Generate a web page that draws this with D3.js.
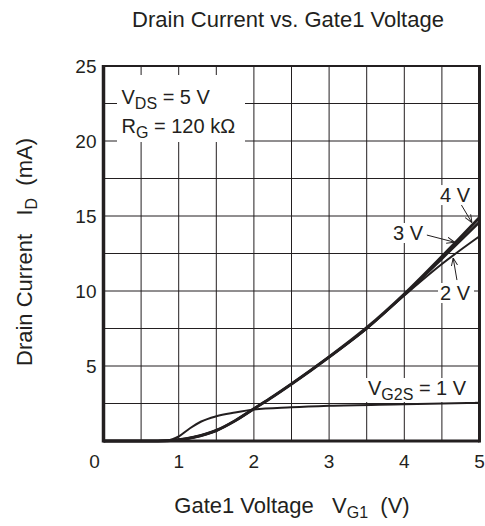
<!DOCTYPE html>
<html>
<head>
<meta charset="utf-8">
<script src="https://cdn.jsdelivr.net/npm/d3@7"></script>
<style>
body { margin: 0; background: #fff; }
text { font-family: "Liberation Sans", Arial, sans-serif; fill: #231f20; }
</style>
</head>
<body>
<div id="chart"></div>
<script>
var svgWidth = 485;
var svgHeight = 526;

var margin = { left: 103.5, right: 5, top: 66, bottom: 85 };
var width = 479.5 - margin.left;
var height = 441 - margin.top;

// data (x: VG1 in V, y: ID in mA)
var xTicks = [0, 1, 2, 3, 4, 5];
var yTicks = [5, 10, 15, 20, 25];
var curve4V = [[0,0],[0.6,0],[0.85,0.02],[1.0,0.08],[1.2,0.25],[1.5,0.7],[1.75,1.35],[2,2.15],[2.25,2.95],[2.5,3.8],[3,5.6],[3.5,7.55],[4,9.8],[4.5,12.3],[5,14.9]];
var curve3V = [[0,0],[0.6,0],[0.85,0.02],[1.0,0.08],[1.2,0.25],[1.5,0.7],[1.75,1.35],[2,2.15],[2.25,2.95],[2.5,3.8],[3,5.6],[3.5,7.5],[4,9.75],[4.5,12.15],[5,14.6]];
var curve2V = [[0,0],[0.6,0],[0.85,0.02],[1.0,0.08],[1.2,0.25],[1.5,0.7],[1.75,1.35],[2,2.15],[2.25,2.95],[2.5,3.8],[3,5.6],[3.5,7.5],[4,9.7],[4.5,11.8],[5,13.65]];
var curve1V = [[0,0],[0.6,0],[0.85,0.04],[1.0,0.3],[1.15,0.85],[1.3,1.3],[1.5,1.65],[1.75,1.9],[2,2.1],[2.5,2.25],[3,2.35],[4,2.45],[5,2.55]];

var svg = d3.select("#chart").append("svg")
  .attr("width", svgWidth)
  .attr("height", svgHeight);

var chartGroup = svg.append("g")
  .attr("transform", `translate(${margin.left}, ${margin.top})`);

var xScale = d3.scaleLinear().domain([0, 5]).range([0, width]);
var yScale = d3.scaleLinear().domain([0, 25]).range([height, 0]);

// grid every 0.5 V and 2.5 mA
chartGroup.append("g")
  .selectAll("line").data(d3.range(0.5, 5, 0.5)).enter()
  .append("line")
  .attr("x1", d => xScale(d)).attr("x2", d => xScale(d))
  .attr("y1", 0).attr("y2", height)
  .attr("stroke", "#231f20").attr("stroke-width", 1);

chartGroup.append("g")
  .selectAll("line").data(d3.range(2.5, 25, 2.5)).enter()
  .append("line")
  .attr("x1", 0).attr("x2", width)
  .attr("y1", d => yScale(d)).attr("y2", d => yScale(d))
  .attr("stroke", "#231f20").attr("stroke-width", 1);

// white patch behind the conditions text
chartGroup.append("rect")
  .attr("x", 13.5).attr("y", 9)
  .attr("width", 128).attr("height", 67)
  .attr("fill", "#fff");

var line = d3.line()
  .x(d => xScale(d[0]))
  .y(d => yScale(d[1]))
  .curve(d3.curveMonotoneX);

chartGroup.append("path").datum(curve1V)
  .attr("d", line).attr("fill", "none")
  .attr("stroke", "#231f20").attr("stroke-width", 2);
chartGroup.append("path").datum(curve2V)
  .attr("d", line).attr("fill", "none")
  .attr("stroke", "#231f20").attr("stroke-width", 2);
chartGroup.append("path").datum(curve3V)
  .attr("d", line).attr("fill", "none")
  .attr("stroke", "#231f20").attr("stroke-width", 2.5);
chartGroup.append("path").datum(curve4V)
  .attr("d", line).attr("fill", "none")
  .attr("stroke", "#231f20").attr("stroke-width", 3);

// frame
chartGroup.append("line")
  .attr("x1", 0).attr("x2", width).attr("y1", 0).attr("y2", 0)
  .attr("stroke", "#231f20").attr("stroke-width", 2);
chartGroup.append("line")
  .attr("x1", 0).attr("x2", 0).attr("y1", -1).attr("y2", height + 1.5)
  .attr("stroke", "#231f20").attr("stroke-width", 3.5);
chartGroup.append("line")
  .attr("x1", 0).attr("x2", width).attr("y1", height).attr("y2", height)
  .attr("stroke", "#231f20").attr("stroke-width", 3);
chartGroup.append("line")
  .attr("x1", width).attr("x2", width).attr("y1", -1).attr("y2", height + 1.5)
  .attr("stroke", "#231f20").attr("stroke-width", 3);

// tick labels
chartGroup.append("g").selectAll("text").data(xTicks).enter()
  .append("text")
  .attr("x", d => d === 0 ? xScale(d) - 9 : xScale(d))
  .attr("y", height + 27)
  .attr("text-anchor", "middle")
  .attr("font-size", "19px")
  .text(d => d);

chartGroup.append("g").selectAll("text").data(yTicks).enter()
  .append("text")
  .attr("x", -7)
  .attr("y", d => yScale(d) + 7)
  .attr("text-anchor", "end")
  .attr("font-size", "19px")
  .text(d => d);

// title
svg.append("text")
  .attr("x", 288).attr("y", 27)
  .attr("text-anchor", "middle")
  .attr("font-size", "22px")
  .text("Drain Current vs. Gate1 Voltage");

// x axis title
var xt = svg.append("text")
  .attr("x", 292).attr("y", 513)
  .attr("text-anchor", "middle")
  .attr("font-size", "22px")
  .attr("xml:space", "preserve");
xt.append("tspan").text("Gate1 Voltage   V");
xt.append("tspan").attr("font-size", "16px").attr("dy", 5).text("G1");
xt.append("tspan").attr("dy", -5).text("  (V)");

// y axis title
var yt = svg.append("text")
  .attr("transform", "translate(32, 252) rotate(-90)")
  .attr("text-anchor", "middle")
  .attr("font-size", "22px")
  .attr("xml:space", "preserve");
yt.append("tspan").text("Drain Current   I");
yt.append("tspan").attr("font-size", "16px").attr("dy", 5).text("D");
yt.append("tspan").attr("dy", -5).text("  (mA)");

// conditions
var c1 = chartGroup.append("text").attr("x", 18).attr("y", 38).attr("font-size", "20px");
c1.append("tspan").text("V");
c1.append("tspan").attr("font-size", "16px").attr("dy", 5).text("DS");
c1.append("tspan").attr("dy", -5).text(" = 5 V");
var c2 = chartGroup.append("text").attr("x", 18).attr("y", 67).attr("font-size", "20px");
c2.append("tspan").text("R");
c2.append("tspan").attr("font-size", "16px").attr("dy", 5).text("G");
c2.append("tspan").attr("dy", -5).text(" = 120 kΩ");

// curve labels with white patches
function curveLabel(txt, x, y, w) {
  chartGroup.append("rect")
    .attr("x", xScale(x) - 2).attr("y", yScale(y) - 17)
    .attr("width", w).attr("height", 20)
    .attr("fill", "#fff");
  return chartGroup.append("text")
    .attr("x", xScale(x)).attr("y", yScale(y))
    .attr("font-size", "20px")
    .text(txt);
}
curveLabel("4 V", 4.475, 15.93, 36);
curveLabel("3 V", 3.85, 13.4, 36);
curveLabel("2 V", 4.475, 9.4, 36);

chartGroup.append("rect")
  .attr("x", xScale(3.45)).attr("y", yScale(4.2))
  .attr("width", 112).attr("height", 24).attr("fill", "#fff");
var v1 = chartGroup.append("text")
  .attr("x", xScale(3.517)).attr("y", yScale(3.07))
  .attr("font-size", "20px");
v1.append("tspan").text("V");
v1.append("tspan").attr("font-size", "16px").attr("dy", 5).text("G2S");
v1.append("tspan").attr("dy", -5).text(" = 1 V");

// arrows
var defs = svg.append("defs");
defs.append("marker").attr("id", "ah")
  .attr("viewBox", "0 0 10 10").attr("refX", 10).attr("refY", 5)
  .attr("markerWidth", 8).attr("markerHeight", 8).attr("orient", "auto")
  .append("path").attr("d", "M0,1 L10,5 L0,9").attr("fill", "none").attr("stroke", "#231f20").attr("stroke-width", 1.2);

function arrow(x1, y1, x2, y2) {
  chartGroup.append("line")
    .attr("x1", xScale(x1)).attr("y1", yScale(y1))
    .attr("x2", xScale(x2)).attr("y2", yScale(y2))
    .attr("stroke", "#231f20").attr("stroke-width", 1)
    .attr("marker-end", "url(#ah)");
}
arrow(4.76, 15.73, 4.9, 14.55);
arrow(4.3, 13.73, 4.67, 13.25);
arrow(4.7, 10.73, 4.65, 12.2);
</script>
</body>
</html>
